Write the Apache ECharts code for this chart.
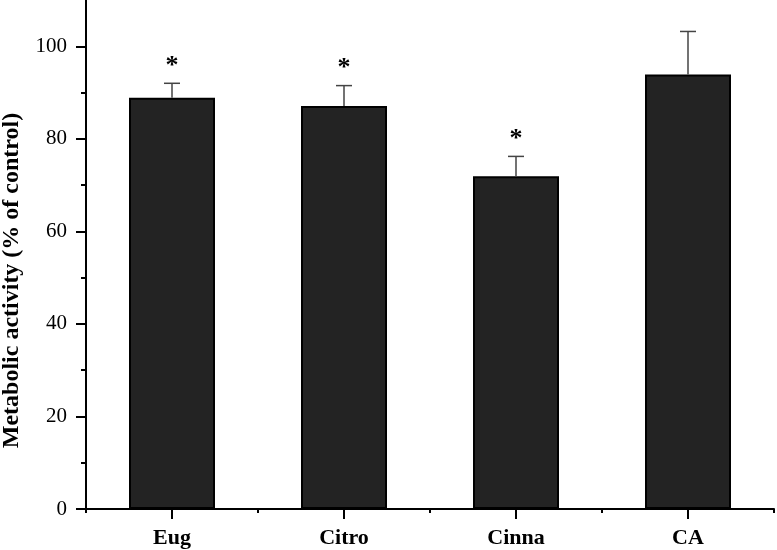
<!DOCTYPE html>
<html><head><meta charset="utf-8">
<script src="https://cdn.jsdelivr.net/npm/echarts@6/dist/echarts.min.js"></script>
<style>html,body{margin:0;padding:0;background:#fff}#c{width:777px;height:550px}</style>
</head><body><div id="c"></div>
<script>
const categories = ['Eug', 'Citro', 'Cinna', 'CA'];
const means = [88.9, 87.1, 71.9, 93.9];
const errors = [3.1, 4.4, 4.3, 9.3];
const significant = [true, true, true, false];
const yTickLabels = [0, 20, 40, 60, 80, 100];
const yMinorTicks = [10, 30, 50, 70, 90];
const yName = 'Metabolic activity (% of control)';

const serif = '"Liberation Serif","Times New Roman",serif';
const chart = echarts.init(document.getElementById('c'), null, {renderer: 'canvas'});
chart.setOption({
  animation: false,
  backgroundColor: '#fff',
  grid: {left: 86, right: 3, top: 0, bottom: 41, containLabel: false, outerBoundsMode: 'none'},
  xAxis: [{
    type: 'category', data: categories, boundaryGap: true,
    axisLine: {lineStyle: {color: '#000', width: 2}},
    axisTick: {show: true, alignWithLabel: false, length: 4, lineStyle: {color: '#000', width: 2}},
    axisLabel: {color: '#000', fontFamily: serif, fontWeight: 'bold', fontSize: 22, margin: 18},
    splitLine: {show: false}
  }, {
    type: 'category', data: categories, boundaryGap: true, position: 'bottom',
    axisLine: {show: false},
    axisTick: {show: true, alignWithLabel: true, length: 10, lineStyle: {color: '#000', width: 2}},
    axisLabel: {show: false}, splitLine: {show: false}
  }],
  yAxis: [{
    type: 'value', min: 0, max: 110,
    name: yName, nameLocation: 'middle', nameGap: 62,
    nameTextStyle: {color: '#000', fontFamily: serif, fontWeight: 'bold', fontSize: 24, padding: [0, 52, 0, 0]},
    axisLine: {show: true, lineStyle: {color: '#000', width: 2}},
    axisTick: {show: true, length: 10, customValues: yTickLabels, lineStyle: {color: '#000', width: 2}},
    axisLabel: {color: '#000', fontFamily: serif, fontSize: 21, margin: 19, customValues: yTickLabels},
    splitLine: {show: false}
  }, {
    type: 'value', min: 0, max: 110, position: 'left',
    axisLine: {show: false},
    axisTick: {show: true, length: 5, customValues: yMinorTicks, lineStyle: {color: '#000', width: 2}},
    axisLabel: {show: false}, splitLine: {show: false}
  }],
  series: [{
    type: 'bar', data: means, barWidth: '50%', z: 2,
    itemStyle: {color: '#232323', borderColor: '#000', borderWidth: 2}
  }, {
    type: 'custom', z: 3,
    data: categories.map((c, i) => [i, means[i], means[i] + errors[i], significant[i] ? 1 : 0]),
    encode: {x: 0, y: [1, 2]},
    renderItem: function (params, api) {
      const base = api.coord([api.value(0), api.value(1)]);
      const top = api.coord([api.value(0), api.value(2)]);
      const children = [
        {type: 'line', shape: {x1: base[0], y1: base[1], x2: top[0], y2: top[1]}, style: {stroke: '#444', lineWidth: 1.5}},
        {type: 'line', shape: {x1: top[0] - 8, y1: top[1], x2: top[0] + 8, y2: top[1]}, style: {stroke: '#444', lineWidth: 1.5}}
      ];
      if (api.value(3)) {
        children.push({type: 'text', x: top[0], y: top[1] - 17,
          style: {text: '*', fill: '#000', font: 'bold 26px ' + serif, align: 'center', verticalAlign: 'middle'}});
      }
      return {type: 'group', children: children};
    }
  }]
});
</script></body></html>
